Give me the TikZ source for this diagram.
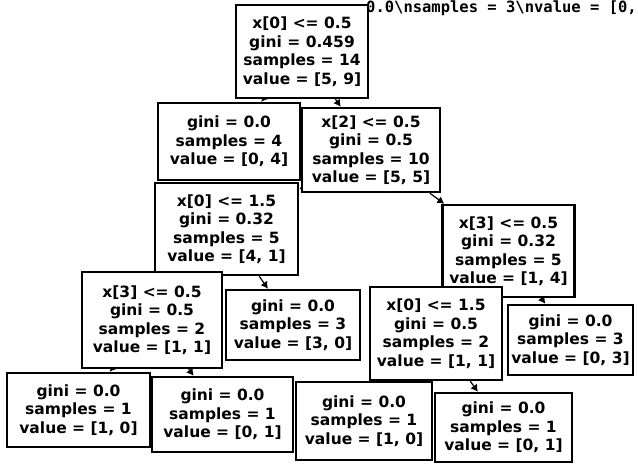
\documentclass[tikz,border=0pt]{standalone}
\usepackage{fontspec}
\setmainfont{DejaVu Sans}
\newfontfamily\fragfont{DejaVu Sans Mono}
\usetikzlibrary{arrows.meta,backgrounds}

\newcommand{\treefont}{\fontsize{15.5}{18.5}\selectfont\bfseries}

\begin{document}
\begin{tikzpicture}[x=1pt, y=-1pt,
      tbox/.style={draw=black, fill=white, line width=2.4pt, align=center,
                   inner sep=0pt, font=\treefont},
      arr/.style={-{Latex[length=7pt,width=8pt]}, black, line width=1.2pt}]
    \useasboundingbox (0,0) rectangle (638,465);
    % cut-off text at the top edge
    \node[anchor=base east, inner sep=0pt, font=\fragfont\bfseries\fontsize{15.5}{18}\selectfont] (frag) at (637,13)
      {0.0\textbackslash nsamples = 3\textbackslash nvalue = [0,};
    % depth 0 and 1
    \node[tbox, minimum width=132, minimum height=93] (root) at (302,51.5)
      {x[0] <= 0.5\\gini = 0.459\\samples = 14\\value = [5, 9]};
    \node[tbox, minimum width=142, minimum height=77] (l1) at (229,141.5)
      {gini = 0.0\\samples = 4\\value = [0, 4]};
    \node[tbox, minimum width=138, minimum height=84] (r1) at (371,150)
      {x[2] <= 0.5\\gini = 0.5\\samples = 10\\value = [5, 5]};
    % depth 2
    \node[tbox, minimum width=143, minimum height=92] (l2) at (226.5,229)
      {x[0] <= 1.5\\gini = 0.32\\samples = 5\\value = [4, 1]};
    \node[tbox, minimum width=132, minimum height=92] (r2) at (508.5,251)
      {x[3] <= 0.5\\gini = 0.32\\samples = 5\\value = [1, 4]};
    % depth 3
    \node[tbox, minimum width=140, minimum height=96] (ll3) at (152,320)
      {x[3] <= 0.5\\gini = 0.5\\samples = 2\\value = [1, 1]};
    \node[tbox, minimum width=134, minimum height=70] (lr3) at (293,325)
      {gini = 0.0\\samples = 3\\value = [3, 0]};
    \node[tbox, minimum width=132, minimum height=93] (rl3) at (436,333.5)
      {x[0] <= 1.5\\gini = 0.5\\samples = 2\\value = [1, 1]};
    \node[tbox, minimum width=125, minimum height=70] (rr3) at (570.5,340)
      {gini = 0.0\\samples = 3\\value = [0, 3]};
    % depth 4
    \node[tbox, minimum width=143, minimum height=74] (a4) at (78.5,410)
      {gini = 0.0\\samples = 1\\value = [1, 0]};
    \node[tbox, minimum width=141, minimum height=75] (b4) at (222.5,414.5)
      {gini = 0.0\\samples = 1\\value = [0, 1]};
    \node[tbox, minimum width=136, minimum height=78] (c4) at (364,421)
      {gini = 0.0\\samples = 1\\value = [1, 0]};
    \node[tbox, minimum width=137, minimum height=69] (d4) at (503.5,427.5)
      {gini = 0.0\\samples = 1\\value = [0, 1]};
    \begin{pgfonlayer}{background}
      \foreach \p/\c in {root/l1,root/r1,r1/l2,r1/r2,l2/ll3,l2/lr3,r2/rl3,r2/rr3,ll3/a4,ll3/b4,rl3/c4,rl3/d4}
        \draw[arr] (\p) -- (\c);
    \end{pgfonlayer}
  \end{tikzpicture}
\end{document}
